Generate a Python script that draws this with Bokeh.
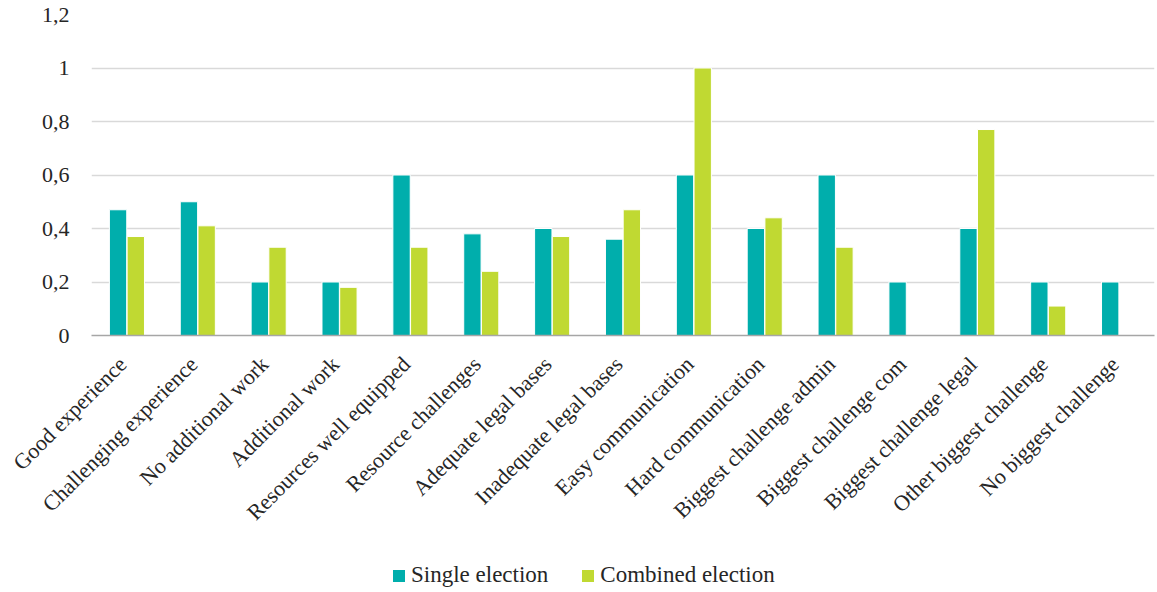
from bokeh.plotting import figure
from bokeh.layouts import column
from bokeh.models import ColumnDataSource, Div, FixedTicker, Range1d
from bokeh.embed import file_html
from bokeh.resources import INLINE
from math import pi

categories = [
    "Good experience", "Challenging experience", "No additional work", "Additional work",
    "Resources well equipped", "Resource challenges", "Adequate legal bases",
    "Inadequate legal bases", "Easy communication", "Hard communication",
    "Biggest challenge admin", "Biggest challenge com", "Biggest challenge legal",
    "Other biggest challenge", "No biggest challenge",
]
single_election = [0.47, 0.50, 0.20, 0.20, 0.60, 0.38, 0.40, 0.36, 0.60, 0.40, 0.60, 0.20, 0.40, 0.20, 0.20]
combined_election = [0.37, 0.41, 0.33, 0.18, 0.33, 0.24, 0.37, 0.47, 1.00, 0.44, 0.33, 0.00, 0.77, 0.11, 0.00]
y_ticks = [0, 0.2, 0.4, 0.6, 0.8, 1.0, 1.2]
y_tick_labels = ["0", "0,2", "0,4", "0,6", "0,8", "1", "1,2"]
series_names = ["Single election", "Combined election"]

SERIF = "Liberation Serif"
TEAL = "#00aeac"
LIME = "#c0d932"
TEXT = "#262626"

# category slots are one unit wide; each slot holds a pair of bars
slot = [i + 0.5 for i in range(len(categories))]
bar_w = 0.245
source = ColumnDataSource(dict(
    x_single=[s - 0.125 for s in slot],
    x_combined=[s + 0.125 for s in slot],
    single=single_election,
    combined=combined_election,
))

# rotated labels finish right at the slot centre
label_pos = [s - 0.06 for s in slot]

p = figure(
    x_range=Range1d(0, len(categories)),
    y_range=Range1d(0, 1.2),
    width=1157, height=552,
    output_backend="svg", toolbar_location=None,
    min_border_left=91, min_border_right=3, min_border_top=14, min_border_bottom=217,
)

p.vbar(x="x_single", top="single", width=bar_w, source=source,
       fill_color=TEAL, line_color="white", line_width=1)
p.vbar(x="x_combined", top="combined", width=bar_w, source=source,
       fill_color=LIME, line_color="white", line_width=1)

p.outline_line_color = None
p.xgrid.grid_line_color = None
p.ygrid.grid_line_color = "#d9d9d9"
p.ygrid.grid_line_width = 1.5
p.ygrid.ticker = FixedTicker(ticks=y_ticks)

p.yaxis.ticker = FixedTicker(ticks=y_ticks)
p.yaxis.major_label_overrides = {t: l for t, l in zip(y_ticks, y_tick_labels)}
p.yaxis.axis_line_color = None
p.yaxis.major_tick_line_color = None
p.yaxis.minor_tick_line_color = None
p.yaxis.major_label_text_font = SERIF
p.yaxis.major_label_text_font_size = "22px"
p.yaxis.major_label_text_color = TEXT
p.yaxis.major_label_standoff = 16

p.xaxis.ticker = FixedTicker(ticks=label_pos)
p.xaxis.major_label_overrides = {t: c for t, c in zip(label_pos, categories)}
p.xaxis.axis_line_color = "#a6a6a6"
p.xaxis.axis_line_width = 1.5
p.xaxis.major_tick_line_color = None
p.xaxis.minor_tick_line_color = None
p.xaxis.major_label_orientation = pi / 4
p.xaxis.major_label_text_font = SERIF
p.xaxis.major_label_text_font_size = "22px"
p.xaxis.major_label_text_color = TEXT
p.xaxis.major_label_standoff = 19

# legend strip underneath the chart: a coloured key square before each series name
def key(color, name, gap):
    square = (f'<span style="display:inline-block;width:12px;height:12px;'
              f'background:{color};margin-left:{gap}px;margin-right:6px"></span>')
    return square + f"<span>{name}</span>"

legend_html = (
    f'<div style="font-family:\'{SERIF}\';font-size:23px;color:{TEXT};'
    f'line-height:24px;white-space:nowrap;padding-left:393px;padding-top:11px">'
    + key(TEAL, series_names[0], 0)
    + key(LIME, series_names[1], 34)
    + "</div>"
)
legend_strip = Div(text=legend_html, width=1157, height=40, margin=0)

open("out.html", "w").write(file_html(column(p, legend_strip, spacing=0), INLINE))
